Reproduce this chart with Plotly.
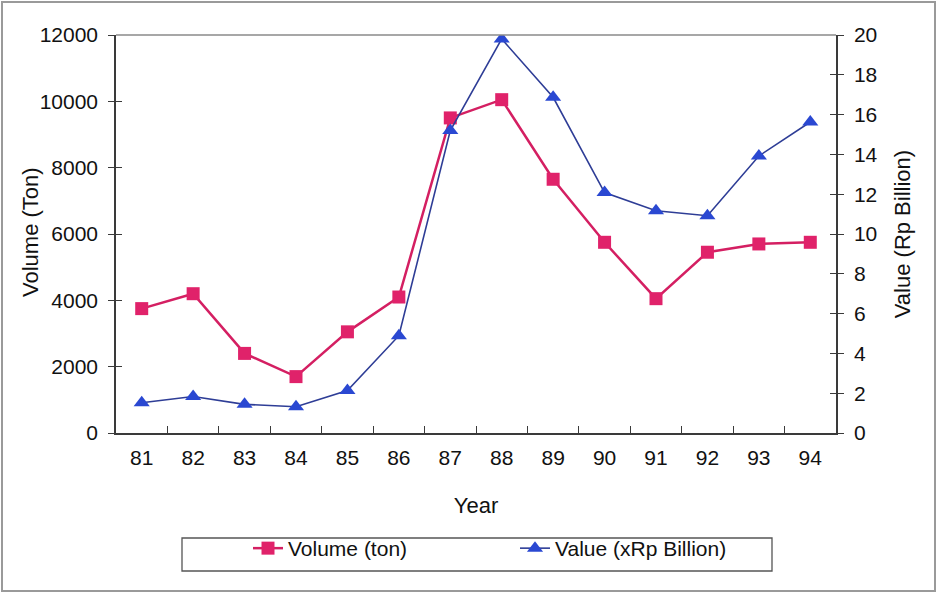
import plotly.graph_objects as go

# Annual production: volume (ton) and value (billion Rupiah), 1981-1994
years = ["81", "82", "83", "84", "85", "86", "87", "88", "89", "90", "91", "92", "93", "94"]
volume_ton = [3750, 4200, 2400, 1700, 3050, 4100, 9500, 10050, 7650, 5750, 4050, 5450, 5700, 5750]
value_rp_billion = [1.52, 1.83, 1.44, 1.32, 2.13, 4.89, 15.2, 19.8, 16.87, 12.08, 11.17, 10.92, 13.92, 15.63]

vol_ticks = [0, 2000, 4000, 6000, 8000, 10000, 12000]
val_ticks = [0, 2, 4, 6, 8, 10, 12, 14, 16, 18, 20]

FONT = "Liberation Sans, Arial, sans-serif"
AXIS = "#3a3a3a"
PINK = "#E0226A"
PINK_LINE = "#D41F62"
BLUE = "#2A48D2"
BLUE_LINE = "#2E3D96"

W, H = 938, 594
L, R, T, B = 116, 102, 35, 161
pw, ph = W - L - R, H - T - B


def px(x):
    return (x - L) / pw


def py(y):
    return (H - B - y) / ph


fig = go.Figure()

fig.add_trace(go.Scatter(
    x=years, y=volume_ton, name="Volume (ton)", mode="lines+markers",
    line=dict(color=PINK_LINE, width=2.5),
    marker=dict(symbol="square", size=13, color=PINK),
    yaxis="y",
))
fig.add_trace(go.Scatter(
    x=years, y=value_rp_billion, name="Value (xRp Billion)", mode="lines+markers",
    line=dict(color=BLUE_LINE, width=1.6),
    marker=dict(symbol="triangle-up", size=14, color=BLUE),
    yaxis="y2",
))

tick_font = dict(family=FONT, size=21, color="#111")
title_font = dict(family=FONT, size=22, color="#111")

fig.update_layout(
    width=W, height=H,
    margin=dict(l=L, r=R, t=T, b=B),
    paper_bgcolor="white", plot_bgcolor="white",
    font=dict(family=FONT, color="#111"),
    xaxis=dict(
        type="category", range=[-0.5, 13.5],
        showline=True, linecolor=AXIS, linewidth=1.5,
        ticks="inside", ticklen=7, tickwidth=1.2, tickcolor=AXIS,
        tickson="boundaries", showgrid=False, zeroline=False,
        tickfont=tick_font, ticklabelstandoff=5,
        title=dict(text="Year", font=title_font, standoff=30),
    ),
    yaxis=dict(
        range=[0, 12000], tickvals=vol_ticks, tickformat="d",
        showline=True, linecolor=AXIS, linewidth=1.5,
        ticks="outside", ticklen=6, tickwidth=1.2, tickcolor=AXIS,
        showgrid=False, zeroline=False,
        tickfont=tick_font, ticklabelstandoff=6,
    ),
    yaxis2=dict(
        range=[0, 20], tickvals=val_ticks, overlaying="y", side="right",
        showline=True, linecolor=AXIS, linewidth=1.5,
        ticks="outside", ticklen=6, tickwidth=1.2, tickcolor=AXIS,
        showgrid=False, zeroline=False,
        tickfont=tick_font, ticklabelstandoff=6,
        title=dict(text="Value (Rp Billion)", font=title_font, standoff=18),
    ),
    # inner halves of the crossing tick marks
    yaxis3=dict(
        range=[0, 12000], tickvals=vol_ticks, overlaying="y", side="left",
        ticks="inside", ticklen=6, tickwidth=1.2, tickcolor=AXIS,
        showticklabels=False, showline=False, showgrid=False, zeroline=False,
    ),
    yaxis4=dict(
        range=[0, 20], tickvals=val_ticks, overlaying="y", side="right",
        ticks="inside", ticklen=6, tickwidth=1.2, tickcolor=AXIS,
        showticklabels=False, showline=False, showgrid=False, zeroline=False,
    ),
    legend=dict(
        orientation="h", x=px(248), xanchor="left", y=py(528), yanchor="top",
        font=dict(family=FONT, size=21, color="#111"),
        entrywidth=222, entrywidthmode="pixels",
        bgcolor="rgba(0,0,0,0)", borderwidth=0,
    ),
    showlegend=True,
)

# left axis title, placed close to the tick labels
fig.add_annotation(
    text="Volume (Ton)", textangle=-90, font=title_font, showarrow=False,
    xref="paper", yref="paper", x=px(30), y=py(232), xanchor="center", yanchor="middle",
)

# placeholder traces so the inner-tick axes are drawn
fig.add_trace(go.Scatter(x=[years[0]], y=[None], yaxis="y3", showlegend=False, hoverinfo="skip"))
fig.add_trace(go.Scatter(x=[years[0]], y=[None], yaxis="y4", showlegend=False, hoverinfo="skip"))

shapes = [
    # top line of the plot area at 12000
    dict(type="line", xref="paper", yref="paper", x0=0, x1=1, y0=1, y1=1,
         line=dict(color="#8a8a8a", width=1.5)),
    # legend frame
    dict(type="rect", xref="paper", yref="paper",
         x0=px(182), x1=px(772), y0=py(538), y1=py(571),
         line=dict(color="#555", width=1.3), fillcolor="rgba(0,0,0,0)"),
    # outer chart frame
    dict(type="rect", xref="paper", yref="paper",
         x0=px(2), x1=px(935), y0=py(2), y1=py(591),
         line=dict(color="#9a9a9a", width=2), fillcolor="rgba(0,0,0,0)"),
]
fig.update_layout(shapes=shapes)

fig.write_html("out.html")
